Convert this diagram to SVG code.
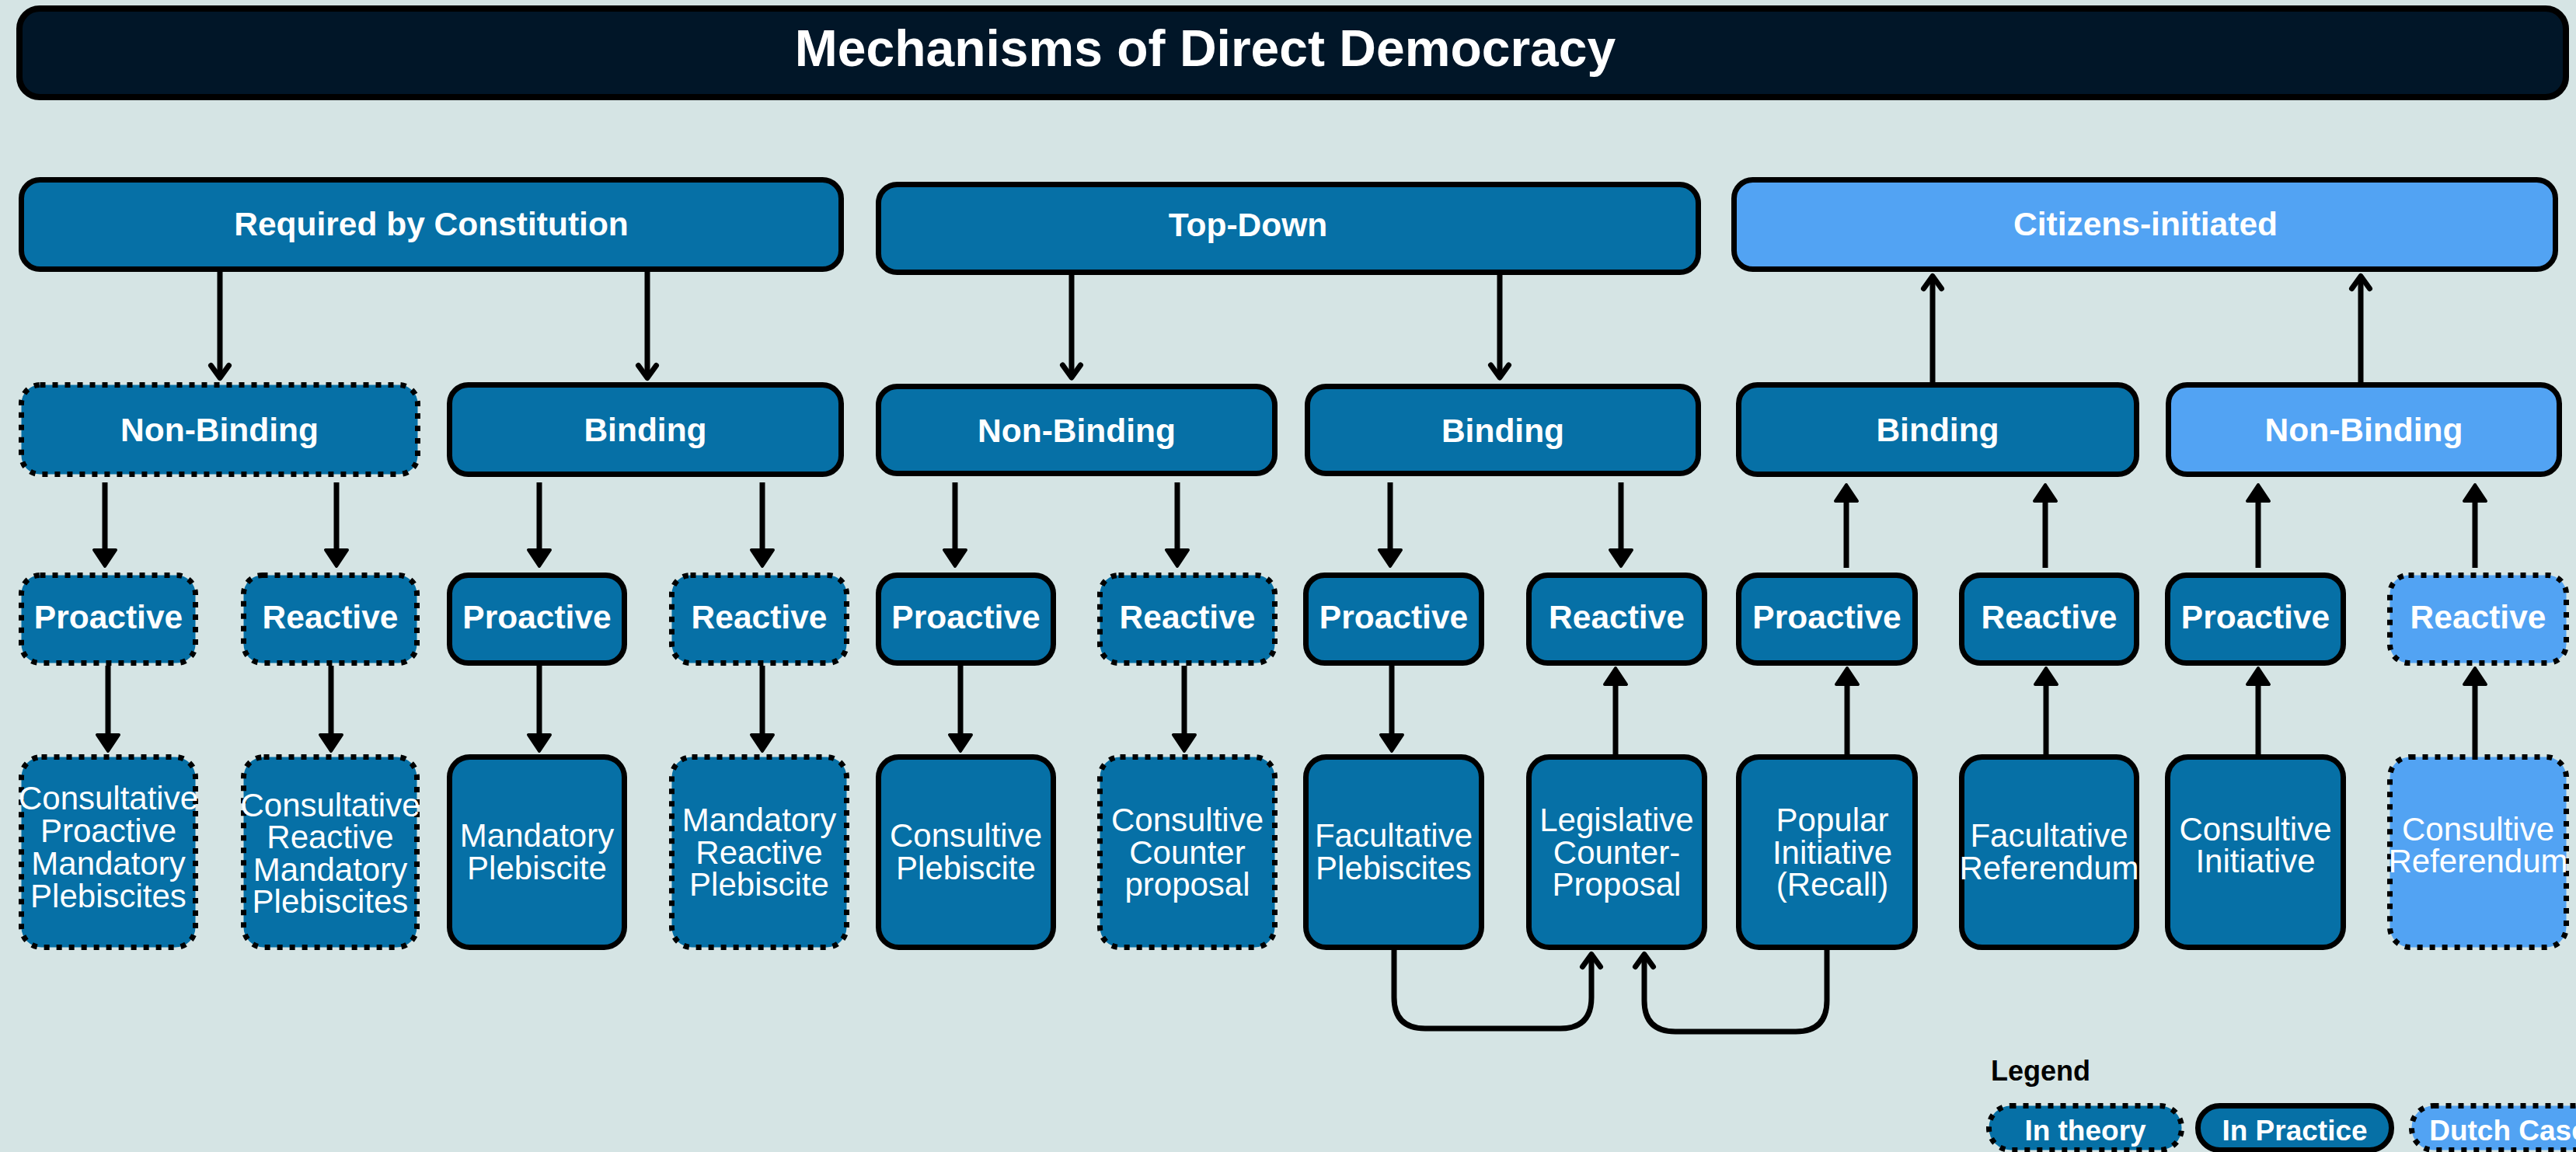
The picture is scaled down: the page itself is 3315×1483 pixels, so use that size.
<svg xmlns="http://www.w3.org/2000/svg" width="3315" height="1483" viewBox="0 0 3315 1483">
<style>
.box{fill:#0670a6;stroke:#000;stroke-width:7}
.light{fill:#52a3f3}
.dot{stroke-dasharray:7 9}
.tb{font-family:"Liberation Sans",Arial,sans-serif;font-weight:bold;font-size:42.5px;fill:#fff;text-anchor:middle}
.tr{font-family:"Liberation Sans",Arial,sans-serif;font-size:42px;fill:#fff;text-anchor:middle}
.conn path{fill:none;stroke:#000;stroke-width:7}
.fa{marker-end:url(#tri)}
.oa{marker-end:url(#open)}
</style>
<defs>
<marker id="tri" markerUnits="userSpaceOnUse" viewBox="0 0 30 36" markerWidth="30" markerHeight="36" refX="4" refY="18" orient="auto">
<path d="M4 4 L25 18 L4 32 Z" fill="#000" stroke="#000" stroke-width="4" stroke-linejoin="round"/>
</marker>
<marker id="open" markerUnits="userSpaceOnUse" viewBox="0 0 32 34" markerWidth="32" markerHeight="34" refX="22" refY="17" orient="auto">
<path d="M6 5.5 L22 17 L6 28.5" fill="none" stroke="#000" stroke-width="7" stroke-linecap="round" stroke-linejoin="round"/>
</marker>
</defs>
<rect x="0" y="0" width="3315" height="1483" fill="#d5e4e4"/>

<g id="title">
<rect x="25" y="11" width="3277" height="114" rx="26" fill="#011628" stroke="#000" stroke-width="8"/>
<text x="1551" y="85" font-family="Liberation Sans,Arial,sans-serif" font-weight="bold" font-size="66" fill="#fff" text-anchor="middle">Mechanisms of Direct Democracy</text>
</g>

<g id="connectors" class="conn">
<path class="oa" d="M283 350 L283 486.5"/>
<path class="oa" d="M833 350 L833 486.5"/>
<path class="oa" d="M1379 354 L1379 486"/>
<path class="oa" d="M1930 354 L1930 486"/>
<path class="oa" d="M2487 492 L2487 355.5"/>
<path class="oa" d="M3038 492 L3038 355.5"/>
<path class="fa" d="M135 621 L135 708"/>
<path class="fa" d="M433 621 L433 708"/>
<path class="fa" d="M694 621 L694 708"/>
<path class="fa" d="M981 621 L981 708"/>
<path class="fa" d="M1229 621 L1229 708"/>
<path class="fa" d="M1515 621 L1515 708"/>
<path class="fa" d="M1789 621 L1789 708"/>
<path class="fa" d="M2086 621 L2086 708"/>
<path class="fa" d="M2376 731 L2376 645"/>
<path class="fa" d="M2632 731 L2632 645"/>
<path class="fa" d="M2906 731 L2906 645"/>
<path class="fa" d="M3185 731 L3185 645"/>
<path class="fa" d="M139 857 L139 946"/>
<path class="fa" d="M426 857 L426 946"/>
<path class="fa" d="M694 857 L694 946"/>
<path class="fa" d="M981 857 L981 946"/>
<path class="fa" d="M1236 857 L1236 946"/>
<path class="fa" d="M1524 857 L1524 946"/>
<path class="fa" d="M1791 857 L1791 946"/>
<path class="fa" d="M2079 971 L2079 881"/>
<path class="fa" d="M2377 971 L2377 881"/>
<path class="fa" d="M2633 971 L2633 881"/>
<path class="fa" d="M2906 971 L2906 881"/>
<path class="fa" d="M3185 971 L3185 881"/>
<path class="oa" d="M1794 1222 L1794 1284 Q1794 1324 1834 1324 L2008 1324 Q2048 1324 2048 1284 L2048 1228.5"/>
<path class="oa" d="M2351 1222 L2351 1288 Q2351 1328 2311 1328 L2156 1328 Q2116 1328 2116 1288 L2116 1228.5"/>
</g>

<g id="n-required"><rect class="box" x="27.5" y="231.5" width="1055" height="115" rx="24"/><text class="tb" x="555" y="303">Required by Constitution</text></g>
<g id="n-topdown"><rect class="box" x="1130.5" y="237.5" width="1055" height="113" rx="24"/><text class="tb" x="1606" y="304">Top-Down</text></g>
<g id="n-citizens"><rect class="box light" x="2231.5" y="231.5" width="1057" height="115" rx="24"/><text class="tb" x="2761" y="303">Citizens-initiated</text></g>

<g id="n-rc-nonbinding"><rect class="box dot" x="27.5" y="495.5" width="510" height="115" rx="24"/><text class="tb" x="282.5" y="568">Non-Binding</text></g>
<g id="n-rc-binding"><rect class="box" x="578.5" y="495.5" width="504" height="115" rx="24"/><text class="tb" x="830.5" y="568">Binding</text></g>
<g id="n-td-nonbinding"><rect class="box" x="1130.5" y="497.5" width="510" height="112" rx="24"/><text class="tb" x="1385.5" y="569">Non-Binding</text></g>
<g id="n-td-binding"><rect class="box" x="1682.5" y="497.5" width="503" height="112" rx="24"/><text class="tb" x="1934" y="569">Binding</text></g>
<g id="n-ci-binding"><rect class="box" x="2237.5" y="495.5" width="512" height="115" rx="24"/><text class="tb" x="2493.5" y="568">Binding</text></g>
<g id="n-ci-nonbinding"><rect class="box light" x="2790.5" y="495.5" width="503" height="115" rx="24"/><text class="tb" x="3042" y="568">Non-Binding</text></g>

<g id="n-r3-1"><rect class="box dot" x="27.5" y="740.5" width="224" height="113" rx="24"/><text class="tb" x="139.5" y="809">Proactive</text></g>
<g id="n-r3-2"><rect class="box dot" x="313.5" y="740.5" width="223" height="113" rx="24"/><text class="tb" x="425" y="809">Reactive</text></g>
<g id="n-r3-3"><rect class="box" x="578.5" y="740.5" width="225" height="113" rx="24"/><text class="tb" x="691" y="809">Proactive</text></g>
<g id="n-r3-4"><rect class="box dot" x="864.5" y="740.5" width="225" height="113" rx="24"/><text class="tb" x="977" y="809">Reactive</text></g>
<g id="n-r3-5"><rect class="box" x="1130.5" y="740.5" width="225" height="113" rx="24"/><text class="tb" x="1243" y="809">Proactive</text></g>
<g id="n-r3-6"><rect class="box dot" x="1415.5" y="740.5" width="225" height="113" rx="24"/><text class="tb" x="1528" y="809">Reactive</text></g>
<g id="n-r3-7"><rect class="box" x="1680.5" y="740.5" width="226" height="113" rx="24"/><text class="tb" x="1793.5" y="809">Proactive</text></g>
<g id="n-r3-8"><rect class="box" x="1967.5" y="740.5" width="226" height="113" rx="24"/><text class="tb" x="2080.5" y="809">Reactive</text></g>
<g id="n-r3-9"><rect class="box" x="2237.5" y="740.5" width="227" height="113" rx="24"/><text class="tb" x="2351" y="809">Proactive</text></g>
<g id="n-r3-10"><rect class="box" x="2524.5" y="740.5" width="225" height="113" rx="24"/><text class="tb" x="2637" y="809">Reactive</text></g>
<g id="n-r3-11"><rect class="box" x="2789.5" y="740.5" width="226" height="113" rx="24"/><text class="tb" x="2902.5" y="809">Proactive</text></g>
<g id="n-r3-12"><rect class="box light dot" x="3075.5" y="740.5" width="227" height="113" rx="24"/><text class="tb" x="3189" y="809">Reactive</text></g>

<g id="n-r4-1"><rect class="box dot" x="27.5" y="974.5" width="224" height="245" rx="26"/>
<text class="tr" x="139.5"><tspan x="139.5" y="1042">Consultative</tspan><tspan x="139.5" y="1084">Proactive</tspan><tspan x="139.5" y="1126">Mandatory</tspan><tspan x="139.5" y="1168">Plebiscites</tspan></text></g>
<g id="n-r4-2"><rect class="box dot" x="313.5" y="974.5" width="223" height="245" rx="26"/>
<text class="tr" x="425"><tspan x="425" y="1051">Consultative</tspan><tspan x="425" y="1092">Reactive</tspan><tspan x="425" y="1134">Mandatory</tspan><tspan x="425" y="1175">Plebiscites</tspan></text></g>
<g id="n-r4-3"><rect class="box" x="578.5" y="974.5" width="225" height="245" rx="26"/>
<text class="tr" x="691"><tspan x="691" y="1090">Mandatory</tspan><tspan x="691" y="1132">Plebiscite</tspan></text></g>
<g id="n-r4-4"><rect class="box dot" x="864.5" y="974.5" width="225" height="245" rx="26"/>
<text class="tr" x="977"><tspan x="977" y="1070">Mandatory</tspan><tspan x="977" y="1112">Reactive</tspan><tspan x="977" y="1153">Plebiscite</tspan></text></g>
<g id="n-r4-5"><rect class="box" x="1130.5" y="974.5" width="225" height="245" rx="26"/>
<text class="tr" x="1243"><tspan x="1243" y="1090">Consultive</tspan><tspan x="1243" y="1132">Plebiscite</tspan></text></g>
<g id="n-r4-6"><rect class="box dot" x="1415.5" y="974.5" width="225" height="245" rx="26"/>
<text class="tr" x="1528"><tspan x="1528" y="1070">Consultive</tspan><tspan x="1528" y="1112">Counter</tspan><tspan x="1528" y="1153">proposal</tspan></text></g>
<g id="n-r4-7"><rect class="box" x="1680.5" y="974.5" width="226" height="245" rx="26"/>
<text class="tr" x="1793.5"><tspan x="1793.5" y="1090">Facultative</tspan><tspan x="1793.5" y="1132">Plebiscites</tspan></text></g>
<g id="n-r4-8"><rect class="box" x="1967.5" y="974.5" width="226" height="245" rx="26"/>
<text class="tr" x="2080.5"><tspan x="2080.5" y="1070">Legislative</tspan><tspan x="2080.5" y="1112">Counter-</tspan><tspan x="2080.5" y="1153">Proposal</tspan></text></g>
<g id="n-r4-9"><rect class="box" x="2237.5" y="974.5" width="227" height="245" rx="26"/>
<text class="tr" x="2358"><tspan x="2358" y="1070">Popular</tspan><tspan x="2358" y="1112">Initiative</tspan><tspan x="2358" y="1153">(Recall)</tspan></text></g>
<g id="n-r4-10"><rect class="box" x="2524.5" y="974.5" width="225" height="245" rx="26"/>
<text class="tr" x="2637"><tspan x="2637" y="1090">Facultative</tspan><tspan x="2637" y="1132">Referendum</tspan></text></g>
<g id="n-r4-11"><rect class="box" x="2789.5" y="974.5" width="226" height="245" rx="26"/>
<text class="tr" x="2902.5"><tspan x="2902.5" y="1082">Consultive</tspan><tspan x="2902.5" y="1123">Initiative</tspan></text></g>
<g id="n-r4-12"><rect class="box light dot" x="3075.5" y="974.5" width="227" height="245" rx="26"/>
<text class="tr" x="3189"><tspan x="3189" y="1082">Consultive</tspan><tspan x="3189" y="1123">Referendum</tspan></text></g>

<g id="legend">
<text x="2562" y="1391" font-family="Liberation Sans,Arial,sans-serif" font-weight="bold" font-size="36" fill="#000">Legend</text>
<g id="legend-theory"><rect class="box dot" x="2559.5" y="1423.5" width="248" height="57" rx="28"/><text class="tb" x="2683.5" y="1468" style="font-size:37px">In theory</text></g>
<g id="legend-practice"><rect class="box" x="2828.5" y="1423.5" width="249" height="57" rx="28"/><text class="tb" x="2953" y="1468" style="font-size:37px">In Practice</text></g>
<g id="legend-dutch"><rect class="box light dot" x="3103.5" y="1423.5" width="249" height="57" rx="28"/><text class="tb" x="3228" y="1468" style="font-size:37px">Dutch Case</text></g>
</g>
</svg>
